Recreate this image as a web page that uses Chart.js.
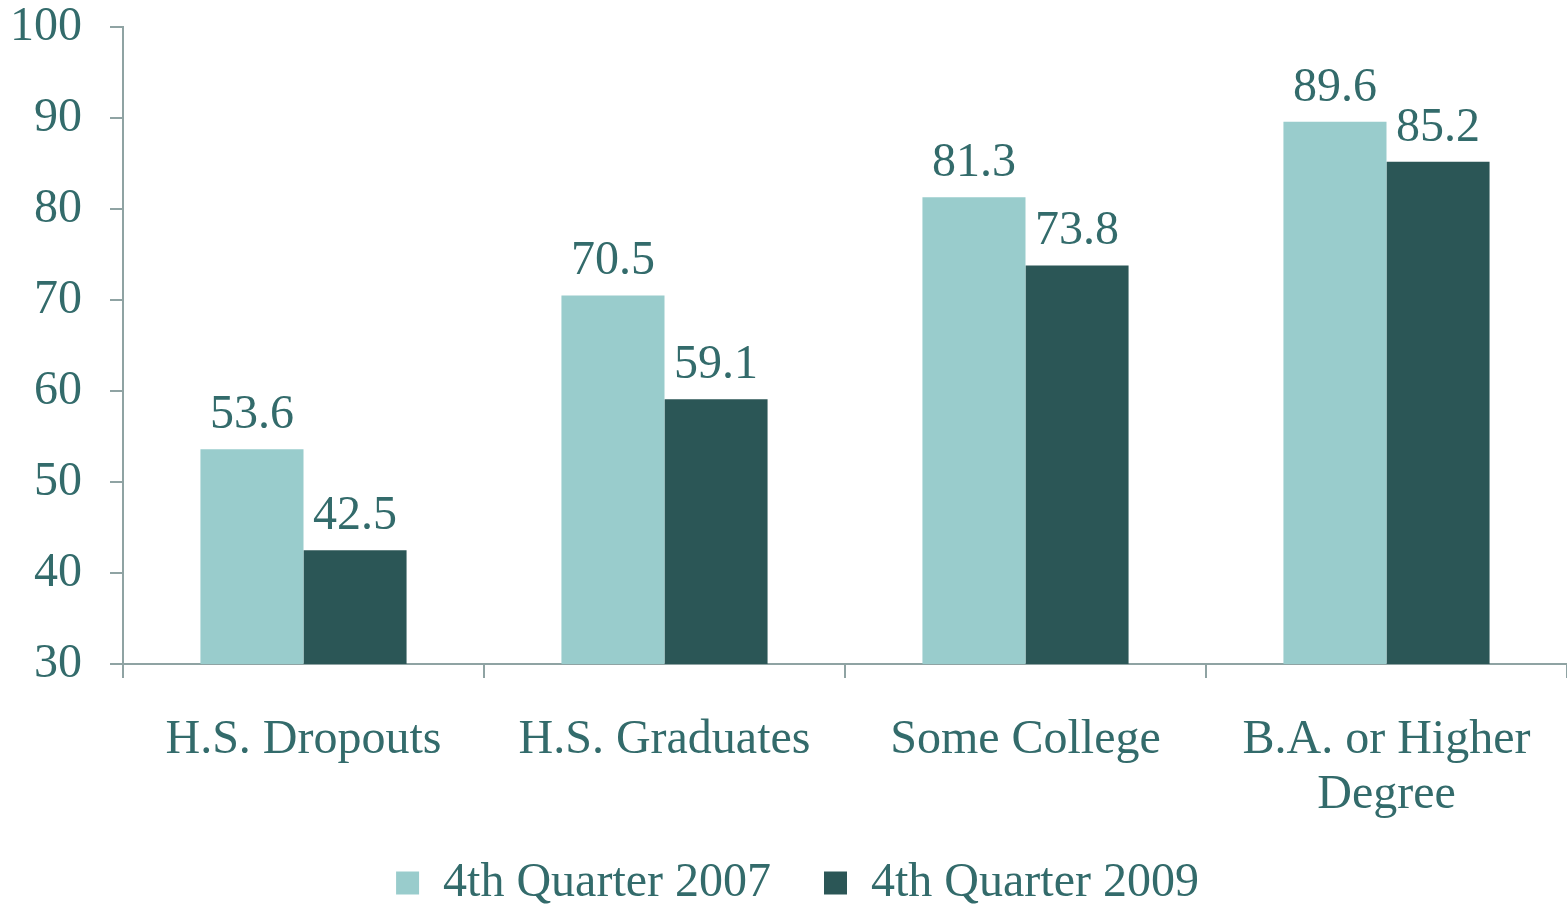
<!DOCTYPE html>
<html>
<head>
<meta charset="utf-8">
<script src="https://cdn.jsdelivr.net/npm/chart.js@4"></script>
<style>
html,body{margin:0;padding:0;background:#fff;}
#wrap{width:1567px;height:905px;}
</style>
</head>
<body>
<div id="wrap"><canvas id="c" width="1567" height="905"></canvas></div>
<script>
const categories = [["H.S. Dropouts"], ["H.S. Graduates"], ["Some College"], ["B.A. or Higher", "Degree"]];
const seriesNames = ["4th Quarter 2007", "4th Quarter 2009"];
const q2007 = [53.6, 70.5, 81.3, 89.6];
const q2009 = [42.5, 59.1, 73.8, 85.2];
const yTicks = [30, 40, 50, 60, 70, 80, 90, 100];

const TEXT = '#336b6b';
const AXIS = '#8fa3a3';
const FONT = 'Liberation Serif, Times New Roman, serif';
const FS = 48;

const valueLabels = {
  id: 'valueLabels',
  afterDatasetsDraw(chart) {
    const ctx = chart.ctx;
    ctx.save();
    ctx.font = FS + 'px ' + FONT;
    ctx.fillStyle = TEXT;
    ctx.textAlign = 'center';
    ctx.textBaseline = 'alphabetic';
    chart.data.datasets.forEach((ds, i) => {
      chart.getDatasetMeta(i).data.forEach((bar, j) => {
        ctx.fillText(ds.data[j].toFixed(1), bar.x, bar.y - 21);
      });
    });
    ctx.restore();
  }
};

const legendShift = {
  id: 'legendShift',
  afterLayout(chart) {
    const lg = chart.legend;
    if (lg) { lg.left += 14; lg.right += 14; lg.top -= 18; lg.bottom -= 18; }
  }
};

new Chart(document.getElementById('c'), {
  type: 'bar',
  data: {
    labels: categories,
    datasets: [
      { label: seriesNames[0], data: q2007, backgroundColor: '#99cccc' },
      { label: seriesNames[1], data: q2009, backgroundColor: '#2b5656' }
    ]
  },
  options: {
    responsive: false,
    animation: false,
    events: [],
    layout: { padding: { left: 0, right: 0, top: 0, bottom: -30 } },
    datasets: { bar: { categoryPercentage: 0.571, barPercentage: 1.0 } },
    plugins: {
      tooltip: { enabled: false },
      legend: {
        position: 'bottom',
        labels: {
          color: TEXT,
          font: { family: FONT, size: FS },
          boxWidth: 23,
          boxHeight: 23,
          padding: 53
        }
      }
    },
    scales: {
      x: {
        grid: { display: true, drawOnChartArea: false, drawTicks: true, tickLength: 14, color: AXIS, offset: true, lineWidth: 2 },
        border: { display: true, color: AXIS, width: 2 },
        ticks: { color: TEXT, font: { family: FONT, size: FS, lineHeight: 1.15 }, padding: 35, maxRotation: 0, autoSkip: false },
        afterFit(s) { s.height = 160; s.paddingLeft = 0; s.paddingRight = 0; }
      },
      y: {
        min: 30, max: 100,
        afterBuildTicks(s) { s.ticks = yTicks.map(v => ({ value: v })); },
        grid: { display: true, drawOnChartArea: false, drawTicks: true, tickLength: 13, color: AXIS, lineWidth: 2 },
        border: { display: true, color: AXIS, width: 2 },
        ticks: { color: TEXT, font: { family: FONT, size: FS }, padding: 28 },
        afterFit(s) { s.width = 123; s.paddingTop = 27; s.paddingBottom = 0; }
      }
    }
  },
  plugins: [valueLabels, legendShift]
});
</script>
</body>
</html>
